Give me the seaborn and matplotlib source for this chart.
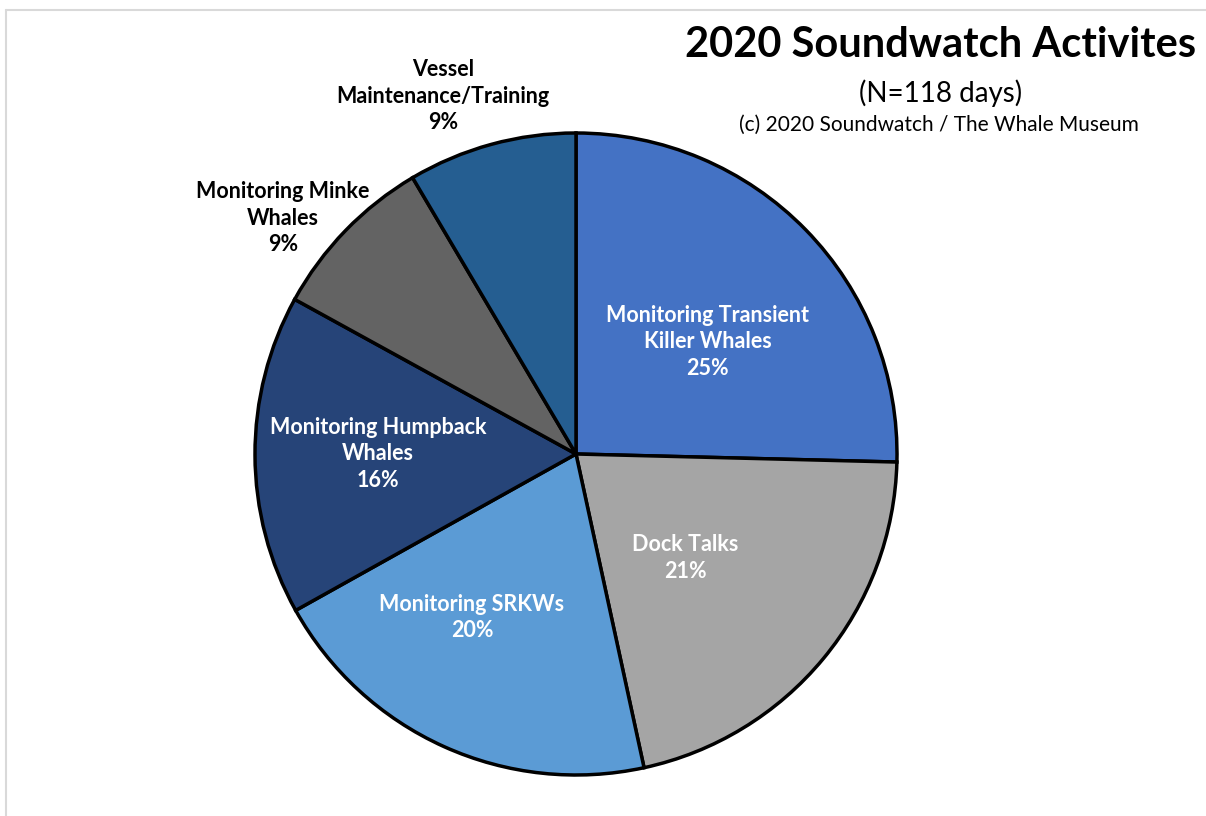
import matplotlib
matplotlib.use("Agg")
import matplotlib.pyplot as plt
import seaborn as sns

# slice data, clockwise from 12 o'clock
activities = [
    "Monitoring Transient\nKiller Whales",
    "Dock Talks",
    "Monitoring SRKWs",
    "Monitoring Humpback\nWhales",
    "Monitoring Minke\nWhales",
    "Vessel\nMaintenance/Training",
]
shares = [25.4, 21.2, 20.3, 16.1, 8.5, 8.5]
pct_labels = ["25%", "21%", "20%", "16%", "9%", "9%"]
colors = ["#4472C4", "#A5A5A5", "#5B9BD5", "#264478", "#636363", "#255E91"]
text_colors = ["white", "white", "white", "white", "black", "black"]
label_pos = [(0.411, 0.349), (0.34, -0.324), (-0.324, -0.508),
             (-0.617, 0.0), (-0.913, 0.735), (-0.414, 1.115)]

sns.set_theme(style="white")
plt.rcParams['font.family'] = ['Lato', 'DejaVu Sans']

fig = plt.figure(figsize=(12.06, 8.16), dpi=100)
fig.patch.set_facecolor("white")

# chart area border (only top/left visible)
fig.add_artist(plt.Line2D([6 / 1206, 1.0], [1 - 10 / 816, 1 - 10 / 816],
                          transform=fig.transFigure, color="#D9D9D9", lw=1.5))
fig.add_artist(plt.Line2D([6 / 1206, 6 / 1206], [0.0, 1 - 10 / 816],
                          transform=fig.transFigure, color="#D9D9D9", lw=1.5))

ax = fig.add_axes([255 / 1206, 41 / 816, 642 / 1206, 642 / 816])
wedges, _ = ax.pie(shares, colors=colors, startangle=90, counterclock=False,
                   radius=1.0,
                   wedgeprops=dict(edgecolor="black", linewidth=2.5))
ax.set_xlim(-1, 1)
ax.set_ylim(-1, 1)
ax.set_aspect("equal")
ax.axis("off")

for name, pct, tc, (x, y) in zip(activities, pct_labels, text_colors, label_pos):
    ax.text(x, y, f"{name}\n{pct}", ha="center", va="center", color=tc,
            fontsize=15.5, fontweight="bold", linespacing=1.3, clip_on=False)

fig.text(941 / 1206, 1 - 45 / 816, "2020 Soundwatch Activites", ha="center",
         va="center", fontsize=30, fontweight="bold", color="black")
fig.text(941 / 1206, 1 - 93 / 816, "(N=118 days)", ha="center", va="center",
         fontsize=20, color="black")
fig.text(939 / 1206, 1 - 125 / 816, "(c) 2020 Soundwatch / The Whale Museum",
         ha="center", va="center", fontsize=15, color="black")

fig.savefig("out.png", dpi=100, facecolor="white")
